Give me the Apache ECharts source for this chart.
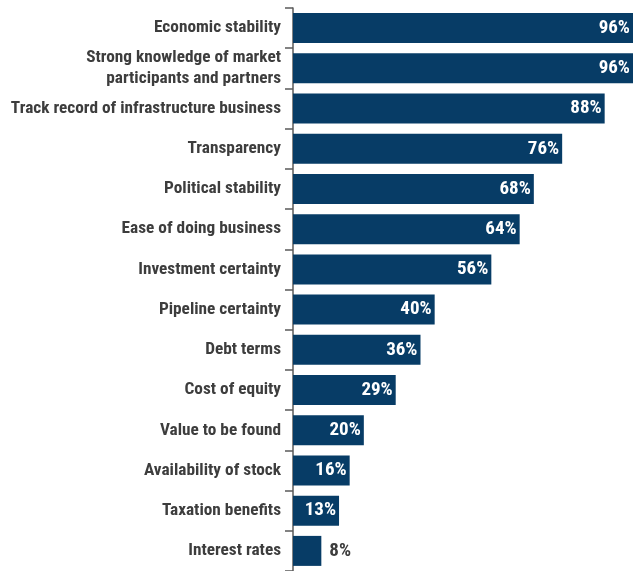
<!DOCTYPE html>
<html>
<head>
<meta charset="utf-8">
<script src="https://cdn.jsdelivr.net/npm/echarts@6/dist/echarts.min.js"></script>
<style>
  html, body { margin: 0; padding: 0; background: #fff; }
  #chart { width: 633px; height: 571px; }
</style>
</head>
<body>
<div id="chart"></div>
<script>
// Factors ranked by share of respondents (%)
const categories = [
  'Economic stability',
  'Strong knowledge of market\nparticipants and partners',
  'Track record of infrastructure business',
  'Transparency',
  'Political stability',
  'Ease of doing business',
  'Investment certainty',
  'Pipeline certainty',
  'Debt terms',
  'Cost of equity',
  'Value to be found',
  'Availability of stock',
  'Taxation benefits',
  'Interest rates'
];
const values = [96, 96, 88, 76, 68, 64, 56, 40, 36, 29, 20, 16, 13, 8];

const FONT = "'Liberation Sans Narrow', 'Roboto Condensed', 'DejaVu Sans Condensed', 'Liberation Sans', sans-serif";
const BAR = '#073c66';
const TEXT = '#3d3d3d';

const chart = echarts.init(document.getElementById('chart'), null, { renderer: 'canvas' });

const data = values.map(function (v) {
  const small = v < 10;
  return {
    value: v,
    label: small
      ? { position: 'right', distance: 8, color: TEXT }
      : { position: 'insideRight', distance: 3, color: '#ffffff' }
  };
});

chart.setOption({
  animation: false,
  grid: { left: 293, top: 8, right: 0, bottom: 0, containLabel: false, outerBoundsMode: 'none' },
  xAxis: {
    type: 'value', min: 0, max: 96,
    show: false
  },
  yAxis: {
    type: 'category',
    data: categories,
    inverse: true,
    axisLine: { show: true, lineStyle: { color: '#5a5a5a', width: 1.5 } },
    axisTick: { show: true, length: 8, alignWithLabel: false, lineStyle: { color: '#5a5a5a', width: 1.5 } },
    axisLabel: {
      margin: 12,
      color: TEXT,
      fontFamily: FONT,
      fontWeight: 'bold',
      fontSize: 17.3,
      lineHeight: 21,
      align: 'right'
    },
    splitLine: { show: false }
  },
  series: [{
    type: 'bar',
    data: data,
    barWidth: 30,
    itemStyle: { color: BAR },
    label: {
      show: true,
      formatter: '{c}%',
      fontFamily: FONT,
      fontWeight: 'bold',
      fontSize: 19
    }
  }]
});
</script>
</body>
</html>
